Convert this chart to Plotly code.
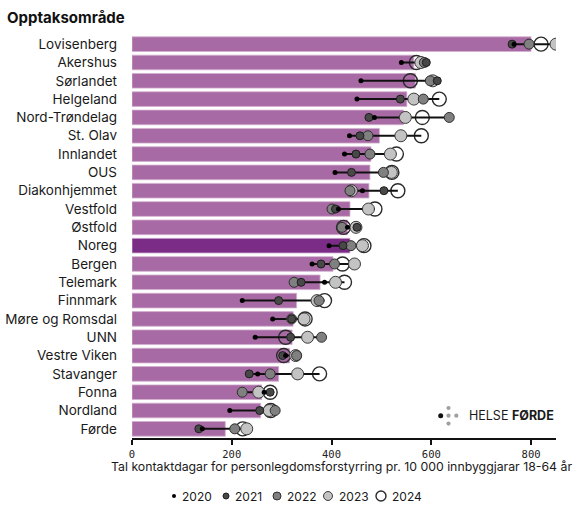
import plotly.graph_objects as go

# Opptaksområde (row order, top to bottom)
regions = ["Lovisenberg", "Akershus", "Sørlandet", "Helgeland", "Nord-Trøndelag",
           "St. Olav", "Innlandet", "OUS", "Diakonhjemmet", "Vestfold", "Østfold",
           "Noreg", "Bergen", "Telemark", "Finnmark", "Møre og Romsdal", "UNN",
           "Vestre Viken", "Stavanger", "Fonna", "Nordland", "Førde"]

# Contact days per 10 000 inhabitants 18-64, per year
v2020 = [766, 540, 459, 451, 486, 436, 426, 407, 462, 414, 432, 395, 361, 386, 221, 282, 247, 308, 252, 265, 196, 141]
v2021 = [762, 590, 612, 538, 475, 457, 449, 440, 505, 408, 451, 423, 379, 339, 294, 320, 318, 302, 235, 277, 256, 134]
v2022 = [796, 586, 598, 584, 636, 473, 477, 504, 437, 401, 421, 439, 406, 325, 375, 320, 380, 330, 277, 221, 287, 206]
v2023 = [850, 579, 603, 565, 548, 539, 518, 520, 440, 474, 449, 462, 446, 408, 371, 345, 352, 328, 332, 254, 275, 230]
v2024 = [820, 570, 558, 616, 582, 580, 530, 521, 533, 487, 424, 465, 422, 426, 386, 347, 308, 304, 376, 277, 278, 222]

# Bar length: average over 2020-2024
snitt = [800, 565, 568, 551, 544, 496, 479, 477, 475, 437, 432, 437, 403, 377, 330, 323, 321, 316, 294, 260, 258, 187]

years = ["2020", "2021", "2022", "2023", "2024"]
x_ticks = [0, 200, 400, 600, 800]

W, H = 582, 508
ML, MR, MT, MB = 132, 26, 35, 70
PW, PH = W - ML - MR, H - MT - MB

FONT = "Inter"
BAR = "#a86aa4"
BAR_NOREG = "#7a2c86"

marker_style = {
    "2020": dict(size=5, color="#000000", line=dict(width=0)),
    "2021": dict(size=8, color="#484848", line=dict(width=1, color="#1e1e1e")),
    "2022": dict(size=10, color="#808080", line=dict(width=1, color="#2e2e2e")),
    "2023": dict(size=12, color="#c3c3c3", line=dict(width=1, color="#3a3a3a")),
    "2024": dict(size=14, color="rgba(0,0,0,0)", line=dict(width=1.4, color="#2a2a2a")),
}
series = {"2020": v2020, "2021": v2021, "2022": v2022, "2023": v2023, "2024": v2024}

fig = go.Figure()

fig.add_trace(go.Bar(
    x=snitt, y=regions, orientation="h", width=0.8,
    marker=dict(color=[BAR_NOREG if r == "Noreg" else BAR for r in regions],
                line=dict(width=0.8, color="#d2b0cf")),
    showlegend=False, hoverinfo="skip",
))

# open 2024 rings sit below the connecting line
fig.add_trace(go.Scatter(x=v2024, y=regions, mode="markers",
                         marker=marker_style["2024"], showlegend=False))

# connecting line through the years for each region
lx, ly = [], []
for i, r in enumerate(regions):
    for yr in years:
        lx.append(series[yr][i])
        ly.append(r)
    lx.append(None)
    ly.append(None)
fig.add_trace(go.Scatter(x=lx, y=ly, mode="lines",
                         line=dict(color="#111111", width=2),
                         showlegend=False, hoverinfo="skip", connectgaps=False))

# smaller markers drawn last so they stay on top
for yr in ["2023", "2022", "2021", "2020"]:
    fig.add_trace(go.Scatter(x=series[yr], y=regions, mode="markers",
                             marker=marker_style[yr], name=yr, showlegend=False))


def px_x(px):
    return (px - ML) / PW


def px_y(py):
    return (MT + PH - py) / PH


shapes = []
annotations = []


def dot(cx, cy, d, fill, line_color=None, line_width=0):
    r = d / 2
    shapes.append(dict(
        type="circle", xref="paper", yref="paper",
        xsizemode="pixel", ysizemode="pixel",
        xanchor=px_x(cx), yanchor=px_y(cy),
        x0=-r, x1=r, y0=-r, y1=r,
        fillcolor=fill,
        line=dict(color=line_color or fill, width=line_width),
        layer="above",
    ))


# legend row
leg_y = 496
leg_x = {"2020": 174, "2021": 226, "2022": 277, "2023": 328, "2024": 381}
leg_size = {"2020": 4, "2021": 6, "2022": 8, "2023": 9, "2024": 10}
for yr in years:
    st = marker_style[yr]
    dot(leg_x[yr], leg_y, leg_size[yr], st["color"],
        st["line"].get("color", st["color"]), max(st["line"]["width"], 0.01))
    annotations.append(dict(
        x=px_x(leg_x[yr] + leg_size[yr] / 2 + 4), y=px_y(leg_y),
        xref="paper", yref="paper", xanchor="left", yanchor="middle",
        text=yr, showarrow=False, font=dict(family=FONT, size=12, color="#1a1a1a"),
    ))

# Helse Førde logo
dot(440.7, 415.7, 5, "#111111")
for cx, cy in [(448.5, 408), (448.5, 415.7), (448.5, 423.6), (456.3, 415.7)]:
    dot(cx, cy, 4.2, "#a0a0a0")
annotations.append(dict(
    x=px_x(467), y=px_y(415.7), xref="paper", yref="paper",
    xanchor="left", yanchor="middle", showarrow=False,
    text="HELSE <b>FØRDE</b>", font=dict(family=FONT, size=12.5, color="#1a1a1a"),
))

# heading
annotations.append(dict(
    x=px_x(5), y=px_y(18), xref="paper", yref="paper",
    xanchor="left", yanchor="middle", showarrow=False,
    text="<b>Opptaksområde</b>", font=dict(family=FONT, size=15, color="#111111"),
))

# x-axis title
annotations.append(dict(
    x=px_x(109), y=px_y(466), xref="paper", yref="paper",
    xanchor="left", yanchor="middle", showarrow=False,
    text="Tal kontaktdagar for personlegdomsforstyrring pr. 10 000 innbyggjarar 18-64 år",
    font=dict(family=FONT, size=12.3, color="#1a1a1a"),
))

fig.update_layout(
    width=W, height=H,
    margin=dict(l=ML, r=MR, t=MT, b=MB, autoexpand=False),
    paper_bgcolor="white", plot_bgcolor="white",
    font=dict(family=FONT, color="#1a1a1a"),
    showlegend=False,
    shapes=shapes,
    annotations=annotations,
    xaxis=dict(
        range=[0, 850], tickvals=x_ticks, ticktext=[str(t) for t in x_ticks],
        showgrid=False, zeroline=False, automargin=False,
        showline=True, linecolor="#111111", linewidth=2,
        ticks="outside", ticklen=5, tickwidth=2, tickcolor="#111111",
        tickfont=dict(family="DejaVu Sans Mono", size=10.5, color="#222222"),
        fixedrange=True,
    ),
    yaxis=dict(
        type="category", categoryorder="array", categoryarray=regions,
        range=[len(regions) - 0.5, -0.5], automargin=False,
        showgrid=False, zeroline=False, showline=False, ticks="",
        ticklabelstandoff=14,
        tickfont=dict(family=FONT, size=13.5, color="#1a1a1a"),
        fixedrange=True,
    ),
)

fig.write_html("out.html")
